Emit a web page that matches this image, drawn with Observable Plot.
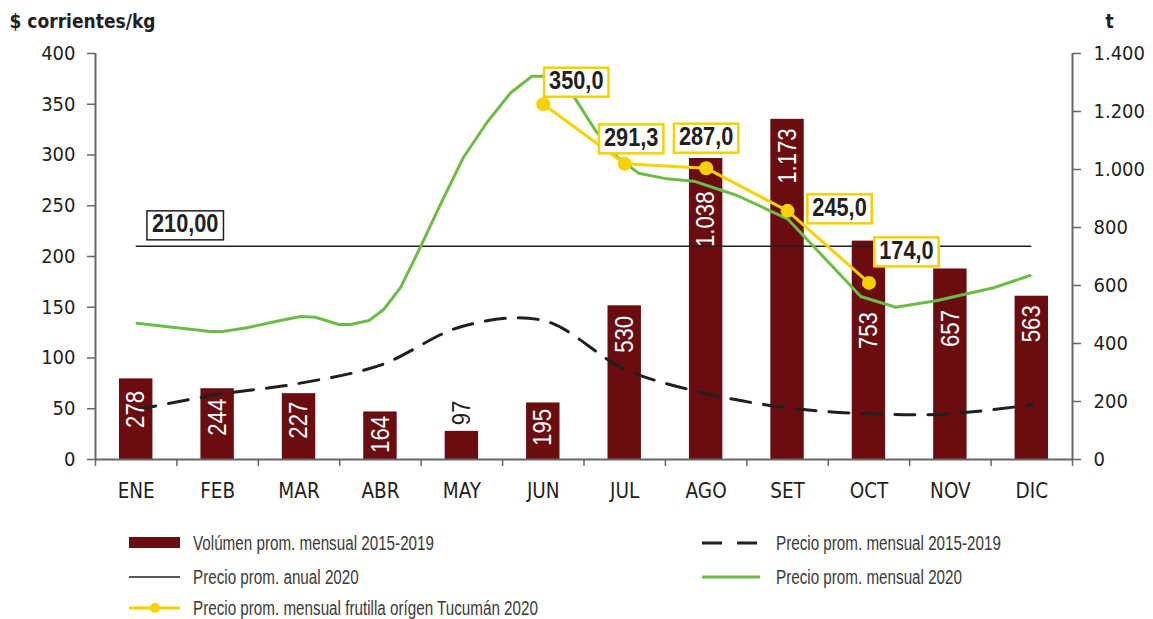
<!DOCTYPE html>
<html>
<head>
<meta charset="utf-8">
<script src="https://cdn.jsdelivr.net/npm/d3@7"></script>
<script src="https://cdn.jsdelivr.net/npm/@observablehq/plot@0.6"></script>
<style>
  body { margin: 0; background: #fff; }
  #wrap { position: relative; width: 1153px; height: 619px; overflow: hidden; background: #fff; }
  #chart svg { display: block; }
  .leg { position: absolute; display: flex; align-items: center; height: 24px;
         font-family: 'Liberation Sans', sans-serif; font-size: 19.5px; color: #3a3a3a; white-space: nowrap; }
  .leg svg { display: block; flex: none; }
  .leg span { display: inline-block; transform: scaleX(0.78); transform-origin: left center; }
</style>
</head>
<body>
<div id="wrap">
  <div id="chart"></div>
</div>
<script>
// ---------- DATA ----------
const meses = ["ENE", "FEB", "MAR", "ABR", "MAY", "JUN", "JUL", "AGO", "SET", "OCT", "NOV", "DIC"];
const mesNum = [1, 2, 3, 4, 5, 6, 7, 8, 9, 10, 11, 12];
const volumen1519 = [278, 244, 227, 164, 97, 195, 530, 1038, 1173, 753, 657, 563];
const precio1519 = [49, 64, 75, 93, 131, 137, 89, 65, 51, 45, 45, 54];
const precioAnual2020 = 210;
const mesTucuman = [6, 7, 8, 9, 10];
const precioTucuman = [350.0, 291.3, 287.0, 245.0, 174.0];
// precio prom. 2020 (posición en meses, 1 = ENE)
const mesVerde = [1.01, 1.91, 2.06, 2.36, 2.77, 3.02, 3.20, 3.49, 3.63, 3.86, 4.04, 4.25, 4.49, 4.74, 5.02, 5.31, 5.60, 5.86, 5.99, 6.16, 6.38, 6.64, 6.91, 7.17, 7.52, 7.85, 8.38, 9.00, 9.90, 10.33, 10.84, 11.53, 11.98];
const precioVerde = [134.3, 126.1, 126.1, 129.8, 136.9, 140.9, 140.2, 133.0, 133.0, 136.9, 147.8, 169.8, 209.2, 251.9, 297.8, 332.3, 361.3, 377.6, 377.6, 373.0, 357.0, 324.1, 297.8, 282.1, 276.5, 274.2, 260.1, 237.1, 160.6, 150.0, 156.7, 169.2, 181.3];
const ticksPrecio = [0, 50, 100, 150, 200, 250, 300, 350, 400];
const ticksVolumen = [0, 200, 400, 600, 800, 1000, 1200, 1400];
const maxPrecio = 400, maxVolumen = 1400;

// ---------- helpers ----------
const loc = d3.formatLocale({decimal: ",", thousands: ".", grouping: [3], currency: ["$", ""]});
const fmtN = loc.format(",");
const fmtP = loc.format(",.1f");
const fmtA = loc.format(",.2f");
const k = maxPrecio / maxVolumen;

const C_BAR = "#6b0d10", C_GREEN = "#6cbd45", C_YEL = "#f9d000", C_TXT = "#231f20", C_AX = "#666";
const NARROW = "'Liberation Sans', Arial, sans-serif";
const COND = "'DejaVu Sans Condensed', 'DejaVu Sans', sans-serif";

const barras = mesNum.map((m, i) => ({m, v: volumen1519[i]}));
const prom = mesNum.map((m, i) => ({m, p: precio1519[i]}));
const verde = mesVerde.map((m, i) => ({m, p: precioVerde[i]}));
const tuc = mesTucuman.map((m, i) => ({m, p: precioTucuman[i]}));

// label placement (presentation only)
const barGap = {1: 12, 2: 10, 3: 8, 4: 4, 6: 6, 7: 10, 8: 33, 9: 9, 10: 71, 11: 41, 12: 9};
const tucOff = {6: [33, -23], 7: [6.5, -26], 8: [0, -31], 9: [52, -3], 10: [37.5, -32]};

const plot = Plot.plot({
  width: 1153, height: 510,
  marginLeft: 95, marginRight: 81, marginTop: 53, marginBottom: 51,
  x: {type: "linear", domain: [0.5, 12.5], axis: null},
  y: {domain: [0, maxPrecio], axis: null},
  style: {fontFamily: COND, fontSize: "20px", color: C_TXT, background: "#fff", overflow: "visible"},
  marks: [
    Plot.rect(barras, {x1: d => d.m - 0.5, x2: d => d.m + 0.5, y1: 0, y2: d => d.v * k, insetLeft: 24, insetRight: 24, fill: C_BAR}),
    // axes lines
    Plot.ruleY([0], {stroke: C_AX, strokeWidth: 2}),
    Plot.ruleX([0.5, 12.5], {y1: 0, y2: maxPrecio, stroke: C_AX, strokeWidth: 2}),
    Plot.axisY(ticksPrecio, {anchor: "left", tickSize: 8, tickPadding: 12, label: null, stroke: C_AX, strokeWidth: 1.5, fill: C_TXT, fontSize: 20}),
    Plot.axisY(ticksVolumen.map(v => v * k), {anchor: "right", tickSize: 8, tickPadding: 13, label: null, tickFormat: d => fmtN(Math.round(d / k)), stroke: C_AX, strokeWidth: 1.5, fill: C_TXT, fontSize: 20}),
    Plot.axisX(d3.range(0.5, 12.6, 1), {tickSize: 7, tickFormat: () => "", label: null, stroke: C_AX, strokeWidth: 1.5}),
    Plot.axisX(mesNum, {tickSize: 0, tickPadding: 24, tickFormat: d => meses[d - 1], label: null, fill: C_TXT, fontSize: 20.5}),
    // lines
    Plot.ruleY([precioAnual2020], {x1: mesNum[0], x2: mesNum[11], stroke: C_TXT, strokeWidth: 1.5}),
    Plot.line(prom, {x: "m", y: "p", curve: "catmull-rom", stroke: "#1f1f1f", strokeWidth: 3, strokeDasharray: "20,13"}),
    Plot.line(verde, {x: "m", y: "p", stroke: C_GREEN, strokeWidth: 3, strokeLinejoin: "round"}),
    Plot.line(tuc, {x: "m", y: "p", stroke: C_YEL, strokeWidth: 3}),
    Plot.dot(tuc, {x: "m", y: "p", r: 7, fill: C_YEL}),
    // bar labels
    ...barras.filter(d => d.m !== 5).map(d => Plot.text([d], {x: "m", y: d => d.v * k, text: d => fmtN(d.v), rotate: -90, textAnchor: "end", lineAnchor: "middle", dy: barGap[d.m], fill: "#fff", fontSize: 25.5, fontFamily: NARROW})),
    ...barras.filter(d => d.m === 5).map(d => Plot.text([d], {x: "m", y: d => d.v * k, text: d => fmtN(d.v), rotate: -90, textAnchor: "start", lineAnchor: "middle", dy: -6, fill: C_TXT, fontSize: 25.5, fontFamily: NARROW})),
    // boxed labels
    ...tuc.map(d => Plot.text([d], {x: "m", y: "p", text: d => fmtP(d.p), dx: tucOff[d.m][0], dy: tucOff[d.m][1], lineAnchor: "middle", fill: C_TXT, fontSize: 25, fontWeight: "bold", fontFamily: NARROW})),
    Plot.text([precioAnual2020], {x: mesNum[0], y: d => d, text: d => fmtA(d), dx: 49, dy: -22, lineAnchor: "middle", fill: C_TXT, fontSize: 25, fontWeight: "bold", fontFamily: NARROW}),
    // axis titles
    Plot.text(["$ corrientes/kg"], {frameAnchor: "top-left", dx: -86, dy: -26, textAnchor: "start", lineAnchor: "bottom", fill: C_TXT, fontSize: 19, fontWeight: "bold", fontFamily: COND}),
    Plot.text(["t"], {frameAnchor: "top-right", dx: 33, dy: -26, textAnchor: "start", lineAnchor: "bottom", fill: C_TXT, fontSize: 19, fontWeight: "bold", fontFamily: COND})
  ]
});
document.getElementById("chart").appendChild(plot);

// condense the narrow texts
const narrowSet = new Set([...volumen1519.map(fmtN), ...precioTucuman.map(fmtP), fmtA(precioAnual2020)]);
plot.querySelectorAll("text").forEach(t => {
  if (!narrowSet.has(t.textContent)) return;
  if (t.closest("[aria-label='y-axis tick label'], [aria-label='x-axis tick label']")) return;
  const w = t.getComputedTextLength();
  t.setAttribute("textLength", (w * 0.87).toFixed(1));
  t.setAttribute("lengthAdjust", "spacingAndGlyphs");
});

// boxes behind labels
const boxed = new Map(precioTucuman.map(p => [fmtP(p), [C_YEL, 2.5]]));
boxed.set(fmtA(precioAnual2020), [C_TXT, 1.5]);
plot.querySelectorAll("text").forEach(t => {
  const c = boxed.get(t.textContent);
  if (!c) return;
  const b = t.getBBox();
  const r = document.createElementNS("http://www.w3.org/2000/svg", "rect");
  r.setAttribute("x", b.x - 5);
  r.setAttribute("y", b.y + 1.5);
  r.setAttribute("width", b.width + 10);
  r.setAttribute("height", b.height + 1);
  r.setAttribute("fill", "#fff");
  r.setAttribute("stroke", c[0]);
  r.setAttribute("stroke-width", c[1]);
  const tr = t.getAttribute("transform");
  if (tr) r.setAttribute("transform", tr);
  t.parentNode.insertBefore(r, t);
});

// ---------- legend ----------
const wrap = document.getElementById("wrap");
function legendItem(left, cy, swatchW, gap, swatchSvg, label) {
  const div = document.createElement("div");
  div.className = "leg";
  div.style.left = left + "px";
  div.style.top = (cy - 12) + "px";
  div.innerHTML = `<svg width="${swatchW}" height="24" style="margin-right:${gap}px">${swatchSvg}</svg><span>${label}</span>`;
  wrap.appendChild(div);
}
legendItem(129, 543, 51, 13, `<rect x="0" y="6" width="51" height="11" fill="${C_BAR}"/>`, "Volúmen prom. mensual 2015-2019");
legendItem(129, 577, 51, 13, `<line x1="0" x2="51" y1="12" y2="12" stroke="${C_TXT}" stroke-width="1.5"/>`, "Precio prom. anual 2020");
legendItem(129, 608, 51, 13, `<line x1="0" x2="51" y1="12" y2="12" stroke="${C_YEL}" stroke-width="3"/><circle cx="26" cy="12" r="5" fill="${C_YEL}"/>`, "Precio prom. mensual frutilla orígen Tucumán 2020");
legendItem(702, 543, 58, 16, `<line x1="0" x2="58" y1="12" y2="12" stroke="#1f1f1f" stroke-width="3" stroke-dasharray="20,15"/>`, "Precio prom. mensual 2015-2019");
legendItem(702, 577, 58, 16, `<line x1="0" x2="58" y1="12" y2="12" stroke="${C_GREEN}" stroke-width="3"/>`, "Precio prom. mensual 2020");
</script>
</body>
</html>
